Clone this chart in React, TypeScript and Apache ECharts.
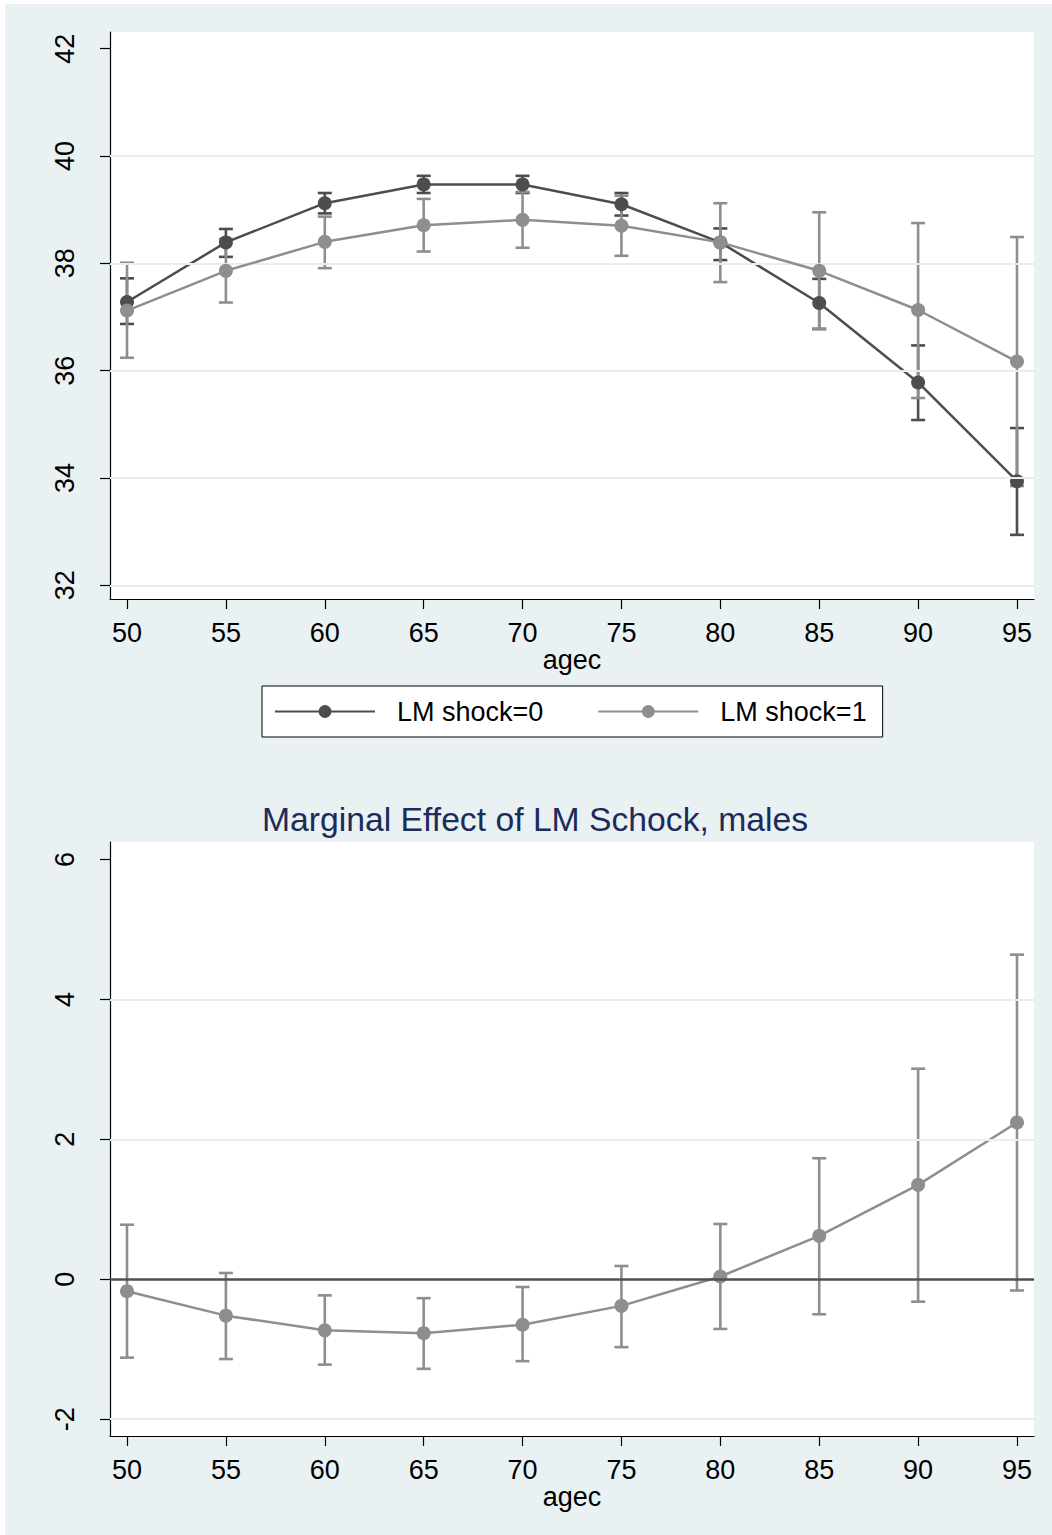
import React, { useEffect, useRef } from "react";
import * as echarts from "echarts";

// ---- data ----
const ages = [50, 55, 60, 65, 70, 75, 80, 85, 90, 95];
const xTickValues = [50, 55, 60, 65, 70, 75, 80, 85, 90, 95];
const topTickValues = [32, 34, 36, 38, 40, 42];
const topGridValues = [32, 34, 36, 38, 40];
const bottomTickValues = [-2, 0, 2, 4, 6];
const bottomGridValues = [-2, 2, 4];

const shock0Mean = [37.28, 38.39, 39.12, 39.47, 39.47, 39.1, 38.39, 37.26, 35.78, 33.94];
const shock0Lo = [36.87, 38.12, 38.93, 39.31, 39.31, 38.89, 38.06, 36.78, 35.08, 32.94];
const shock0Hi = [37.72, 38.64, 39.31, 39.63, 39.63, 39.31, 38.65, 37.71, 36.47, 34.93];

const shock1Mean = [37.12, 37.86, 38.4, 38.71, 38.81, 38.7, 38.39, 37.86, 37.13, 36.17];
const shock1Lo = [36.24, 37.27, 37.91, 38.22, 38.29, 38.14, 37.65, 36.77, 35.49, 33.85];
const shock1Hi = [38.01, 38.45, 38.87, 39.2, 39.33, 39.26, 39.12, 38.95, 38.75, 38.49];

const meMean = [-0.17, -0.52, -0.73, -0.77, -0.65, -0.38, 0.04, 0.62, 1.35, 2.24];
const meLo = [-1.12, -1.14, -1.22, -1.28, -1.17, -0.97, -0.71, -0.5, -0.32, -0.16];
const meHi = [0.78, 0.09, -0.23, -0.27, -0.11, 0.19, 0.79, 1.73, 3.01, 4.64];

const seriesNames = ["LM shock=0", "LM shock=1"];
const xAxisTitle = "agec";
const bottomTitle = "Marginal Effect of LM Schock, males";

// ---- styles ----
const FONT = "'Liberation Sans', Arial, Helvetica, sans-serif";
const DARK = "#4d4d4d";
const LIGHT = "#8e8e8e";
const BG = "#e9f1f3";
const GRIDC = "#e6eef0";

function errorBarRender(color: string) {
  return (params: any, api: any) => {
    const x = api.value(0);
    const lo = api.value(1);
    const hi = api.value(2);
    const pLo = api.coord([x, lo]);
    const pHi = api.coord([x, hi]);
    const hw = 7;
    const style = { stroke: color, lineWidth: 2.6, fill: "none" };
    return {
      type: "group",
      children: [
        { type: "line", shape: { x1: pLo[0], y1: pLo[1], x2: pHi[0], y2: pHi[1] }, style },
        { type: "line", shape: { x1: pLo[0] - hw, y1: pLo[1], x2: pLo[0] + hw, y2: pLo[1] }, style },
        { type: "line", shape: { x1: pHi[0] - hw, y1: pHi[1], x2: pHi[0] + hw, y2: pHi[1] }, style },
      ],
    };
  };
}

function xAxisCfg(gridIndex: number) {
  return {
    type: "value",
    gridIndex,
    min: 49.14,
    max: 95.86,
    name: xAxisTitle,
    nameLocation: "middle",
    nameGap: 45,
    nameTextStyle: { fontSize: 27, color: "#000", fontFamily: FONT },
    axisLine: { show: true, onZero: false, lineStyle: { color: "#000", width: 1.2 } },
    axisTick: { show: true, length: 10, customValues: xTickValues, lineStyle: { color: "#000", width: 1.2 } },
    axisLabel: { customValues: xTickValues, fontSize: 27, color: "#000", fontFamily: FONT, margin: 20 },
    splitLine: { show: false },
  };
}

function yAxisCfg(gridIndex: number, min: number, max: number, ticks: number[]) {
  return {
    type: "value",
    gridIndex,
    min,
    max,
    axisLine: { show: true, onZero: false, lineStyle: { color: "#000", width: 1.2 } },
    axisTick: { show: true, length: 10, customValues: ticks, lineStyle: { color: "#000", width: 1.2 } },
    axisLabel: { customValues: ticks, fontSize: 27, color: "#000", fontFamily: FONT, rotate: 90, margin: 32 },
    splitLine: { show: false },
  };
}

function gridLines(xi: number, values: number[], color: string, width: number) {
  return {
    type: "line",
    xAxisIndex: xi,
    yAxisIndex: xi,
    data: [],
    silent: true,
    z: 1,
    markLine: {
      silent: true,
      symbol: "none",
      label: { show: false },
      lineStyle: { color, width, type: "solid" },
      data: values.map((v) => ({ yAxis: v })),
    },
  };
}

export default function App() {
  const ref = useRef<HTMLDivElement>(null);
  useEffect(() => {
    if (!ref.current) return;
    const chart = echarts.init(ref.current, undefined, { renderer: "svg" });
    const option: any = {
      animation: false,
      backgroundColor: BG,
      textStyle: { fontFamily: FONT },
      title: {
        text: bottomTitle,
        left: 257,
        top: 798,
        padding: 0,
        textStyle: { fontSize: 33.7, fontWeight: "normal", color: "#1c2b5a", fontFamily: FONT },
      },
      legend: {
        data: seriesNames,
        left: 257,
        top: 682,
        orient: "horizontal",
        itemWidth: 100,
        itemHeight: 16,
        itemGap: 54,
        padding: [12, 16, 12, 12],
        backgroundColor: "#fff",
        borderColor: "#000",
        borderWidth: 1,
        borderRadius: 0,
        textStyle: { fontSize: 27, color: "#000", fontFamily: FONT, padding: [0, 0, 0, 17] },
      },
      grid: [
        { left: 105, top: 28, width: 924, height: 567, show: true, backgroundColor: "#fff", borderWidth: 0 },
        { left: 105, top: 838, width: 924, height: 594, show: true, backgroundColor: "#fff", borderWidth: 0 },
      ],
      xAxis: [xAxisCfg(0), xAxisCfg(1)],
      yAxis: [yAxisCfg(0, 31.745, 42.31, topTickValues), yAxisCfg(1, -2.24, 6.25, bottomTickValues)],
      series: [
        gridLines(0, topGridValues, GRIDC, 2),
        gridLines(1, bottomGridValues, GRIDC, 2),
        {
          type: "custom",
          name: "ci0",
          xAxisIndex: 0,
          yAxisIndex: 0,
          z: 2,
          renderItem: errorBarRender(DARK),
          encode: { x: 0, y: [1, 2] },
          data: ages.map((a, i) => [a, shock0Lo[i], shock0Hi[i]]),
        },
        {
          type: "custom",
          name: "ci1",
          xAxisIndex: 0,
          yAxisIndex: 0,
          z: 3,
          renderItem: errorBarRender(LIGHT),
          encode: { x: 0, y: [1, 2] },
          data: ages.map((a, i) => [a, shock1Lo[i], shock1Hi[i]]),
        },
        {
          type: "line",
          name: seriesNames[0],
          xAxisIndex: 0,
          yAxisIndex: 0,
          z: 4,
          symbol: "circle",
          symbolSize: 14,
          color: DARK,
          itemStyle: { color: DARK },
          lineStyle: { color: DARK, width: 2.5 },
          data: ages.map((a, i) => [a, shock0Mean[i]]),
        },
        {
          type: "line",
          name: seriesNames[1],
          xAxisIndex: 0,
          yAxisIndex: 0,
          z: 5,
          symbol: "circle",
          symbolSize: 14,
          color: LIGHT,
          itemStyle: { color: LIGHT },
          lineStyle: { color: LIGHT, width: 2.5 },
          data: ages.map((a, i) => [a, shock1Mean[i]]),
        },
        {
          type: "custom",
          name: "ciME",
          xAxisIndex: 1,
          yAxisIndex: 1,
          z: 2,
          renderItem: errorBarRender(LIGHT),
          encode: { x: 0, y: [1, 2] },
          data: ages.map((a, i) => [a, meLo[i], meHi[i]]),
        },
        {
          type: "line",
          name: "zero",
          xAxisIndex: 1,
          yAxisIndex: 1,
          data: [],
          silent: true,
          z: 3,
          markLine: {
            silent: true,
            symbol: "none",
            label: { show: false },
            lineStyle: { color: "#505050", width: 2.6, type: "solid" },
            data: [{ yAxis: 0 }],
          },
        },
        {
          type: "line",
          name: "ME",
          xAxisIndex: 1,
          yAxisIndex: 1,
          z: 4,
          symbol: "circle",
          symbolSize: 14,
          color: LIGHT,
          itemStyle: { color: LIGHT },
          lineStyle: { color: LIGHT, width: 2.5 },
          data: ages.map((a, i) => [a, meMean[i]]),
        },
      ],
    };
    chart.setOption(option);
    return () => chart.dispose();
  }, []);
  return (
    <div
      ref={ref}
      style={{ position: "absolute", left: 5, top: 4, width: 1047, height: 1531 }}
    />
  );
}
